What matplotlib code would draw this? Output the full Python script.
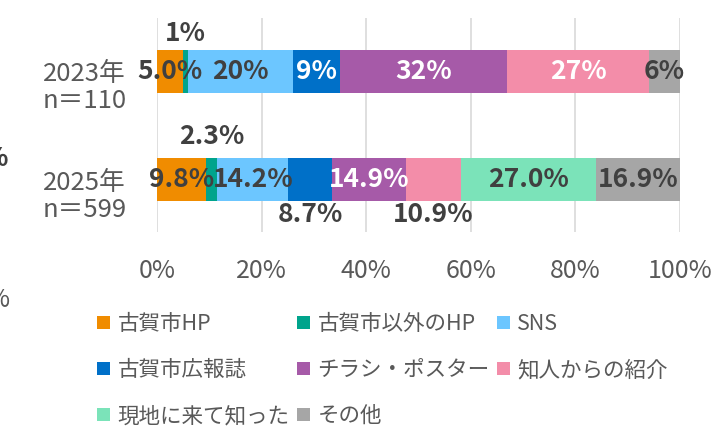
import matplotlib
matplotlib.use("Agg")
import numpy as np
from matplotlib import pyplot as plt
from matplotlib.patches import Patch
from matplotlib.transforms import ScaledTranslation

plt.rcParams['font.family'] = ['Noto Sans CJK JP', 'DejaVu Sans']

# data
categories = ['古賀市HP', '古賀市以外のHP', 'SNS', '古賀市広報誌',
              'チラシ・ポスター', '知人からの紹介', '現地に来て知った', 'その他']
years = ['2023年\nn＝110', '2025年\nn＝599']
values_2023 = [5.0, 1, 20, 9, 32, 27, 0, 6]
values_2025 = [9.8, 2.3, 14.2, 8.7, 14.9, 10.9, 27.0, 16.9]
labels_2023 = ['5.0%', '1%', '20%', '9%', '32%', '27%', '', '6%']
labels_2025 = ['9.8%', '2.3%', '14.2%', '8.7%', '14.9%', '10.9%', '27.0%', '16.9%']
xticks = [0, 20, 40, 60, 80, 100]

colors = ['#F08C00', '#00A48C', '#6CC6FF', '#0070C8',
          '#A65AA8', '#F38DA9', '#7BE3B9', '#A6A6A6']
# label placement per segment: 0 = inside, -1 = above, +1 = below
place_2023 = [0, -1, 0, 0, 0, 0, 0, 0]
place_2025 = [0, -1, 0, 1, 0, 1, 0, 0]
white_2023 = [False, False, False, True, True, True, False, False]
white_2025 = [False, False, False, False, True, False, False, False]

dark = '#404040'
grey_txt = '#595959'

fig = plt.figure(figsize=(7.13, 4.26), dpi=100)
ax = fig.add_axes([157 / 713, 1 - 232 / 426, 523 / 713, 214 / 426])

rows = [(values_2023, labels_2023, place_2023, white_2023),
        (values_2025, labels_2025, place_2025, white_2025)]
bar_h = 0.395

for yi, (vals, labs, place, white) in enumerate(rows):
    vals = np.array(vals, dtype=float)
    pct = vals / vals.sum() * 100
    left = np.concatenate([[0], np.cumsum(pct)[:-1]])
    for i in range(len(categories)):
        if pct[i] <= 0:
            continue
        ax.barh(yi, pct[i], left=left[i], height=bar_h, color=colors[i],
                edgecolor='none', zorder=2)
        cx = left[i] + pct[i] / 2
        if place[i] == 0:
            ty = yi
        elif place[i] < 0:
            ty = yi - (0.35 if yi == 0 else 0.40)
        else:
            ty = yi + 0.32
        ax.text(cx, ty, labs[i], ha='center', va='center', fontsize=19,
                fontweight='bold', color='white' if white[i] else dark,
                zorder=3)

ax.set_xlim(0, 100)
ax.set_ylim(1.48, -0.49)
ax.set_xticks(xticks)
ax.set_xticklabels([f'{t}%' for t in xticks])
ax.set_yticks([0, 1])
ax.set_yticklabels(years, multialignment='center')
ax.tick_params(axis='x', length=0, pad=19, labelsize=18, labelcolor=grey_txt)
ax.tick_params(axis='y', length=0, pad=22, labelsize=18.5, labelcolor=grey_txt)
for lab in ax.get_yticklabels():
    lab.set_transform(lab.get_transform() + ScaledTranslation(0, -13 / 100, fig.dpi_scale_trans))
    lab.set_linespacing(1.05)
ax.grid(axis='x', color='#D9D9D9', linewidth=1.2, zorder=0)
ax.set_axisbelow(True)
for s in ax.spines.values():
    s.set_visible(False)

# legend, one column at a time
handles = [Patch(facecolor=c, edgecolor='none') for c in colors]
col_items = [[0, 3, 6], [1, 4, 7], [2, 5]]
col_x = [97, 297, 497]
for items, x in zip(col_items, col_x):
    fig.legend([handles[i] for i in items], [categories[i] for i in items],
               loc='upper left', bbox_to_anchor=(x / 713, 1 - 313 / 426),
               frameon=False, fontsize=15.5, labelcolor=grey_txt,
               handlelength=0.6, handleheight=0.6, handletextpad=0.35,
               labelspacing=1.12, borderpad=0, borderaxespad=0)

# clipped glyphs at the left edge of the picture
fig.text(8 / 713, 1 - 158 / 426, '%', ha='right', va='center', fontsize=19,
         fontweight='bold', color=dark)
fig.text(10 / 713, 1 - 300 / 426, '%', ha='right', va='center', fontsize=18,
         color=grey_txt)

fig.savefig('out.png', dpi=100)
